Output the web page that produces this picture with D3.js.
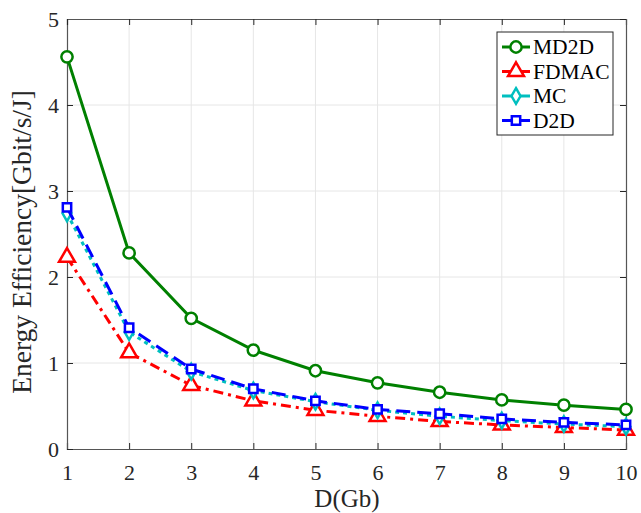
<!DOCTYPE html>
<html>
<head>
<meta charset="utf-8">
<script src="https://cdn.jsdelivr.net/npm/d3@7"></script>
<style>
  body { margin: 0; background: #fff; }
  svg text { font-family: "Liberation Serif", Tinos, "Times New Roman", Times, serif !important; }
</style>
</head>
<body>
<svg width="641" height="513"></svg>
<script>
var xValues = [1, 2, 3, 4, 5, 6, 7, 8, 9, 10];
var md2d  = [4.56, 2.28, 1.52, 1.15, 0.91, 0.77, 0.66, 0.57, 0.51, 0.46];
var fdmac = [2.23, 1.12, 0.74, 0.56, 0.45, 0.38, 0.32, 0.28, 0.25, 0.22];
var mc    = [2.74, 1.36, 0.90, 0.68, 0.55, 0.45, 0.38, 0.33, 0.29, 0.26];
var d2d   = [2.81, 1.41, 0.93, 0.70, 0.56, 0.46, 0.41, 0.35, 0.31, 0.28];
var yTicks = [0, 1, 2, 3, 4, 5];

var svg = d3.select('svg');
var padding = {t: 19, r: 15, b: 64, l: 67};
var chartWidth = 641 - padding.l - padding.r;
var chartHeight = 513 - padding.t - padding.b;

var chartG = svg.append('g')
    .attr('transform', 'translate(' + [padding.l, padding.t] + ')');

var xScale = d3.scaleLinear().domain([1, 10]).range([0, chartWidth]);
var yScale = d3.scaleLinear().domain([0, 5]).range([chartHeight, 0]);

// grid
chartG.append('g').selectAll('line.gx')
  .data(xValues.slice(1, -1)).enter().append('line')
    .attr('x1', function(d) { return xScale(d); })
    .attr('x2', function(d) { return xScale(d); })
    .attr('y1', 0).attr('y2', chartHeight)
    .attr('stroke', '#e6e6e6').attr('stroke-width', 1);
chartG.append('g').selectAll('line.gy')
  .data(yTicks.slice(1, -1)).enter().append('line')
    .attr('y1', function(d) { return yScale(d); })
    .attr('y2', function(d) { return yScale(d); })
    .attr('x1', 0).attr('x2', chartWidth)
    .attr('stroke', '#e6e6e6').attr('stroke-width', 1);

// axes, ticks pointing inward
var xAxis = d3.axisBottom(xScale).tickValues(xValues).tickSize(-6).tickPadding(15).tickFormat(d3.format('d'));
var yAxis = d3.axisLeft(yScale).tickValues(yTicks).tickSize(-6).tickPadding(8).tickFormat(d3.format('d'));
var xAxisTop = d3.axisTop(xScale).tickValues(xValues).tickSize(-6).tickFormat('');
var yAxisRight = d3.axisRight(yScale).tickValues(yTicks).tickSize(-6).tickFormat('');

function styleAxis(g) {
  g.attr('font-family', null).attr('font-size', null);
  g.select('.domain').attr('stroke', '#555').attr('stroke-width', 1.2);
  g.selectAll('.tick line').attr('stroke', '#262626');
  g.selectAll('.tick text').attr('fill', '#262626').style('font-size', '22px');
}

chartG.append('g').attr('transform', 'translate(0,' + chartHeight + ')').call(xAxis).call(styleAxis);
chartG.append('g').call(yAxis).call(styleAxis);
chartG.append('g').call(xAxisTop).call(styleAxis);
chartG.append('g').attr('transform', 'translate(' + chartWidth + ',0)').call(yAxisRight).call(styleAxis);

svg.append('text')
  .attr('x', 347).attr('y', 507)
  .attr('text-anchor', 'middle').style('font-size', '25px').attr('fill', '#262626')
  .text('D(Gb)');
svg.append('text')
  .attr('transform', 'translate(31,242) rotate(-90)')
  .attr('text-anchor', 'middle').style('font-size', '27.5px').attr('fill', '#262626')
  .text('Energy Efficiency[Gbit/s/J]');

var series = [
  {name: 'MD2D', values: md2d, color: '#008000', dash: null, marker: 'circle'},
  {name: 'FDMAC', values: fdmac, color: '#ff0000', dash: '10,5,3,5', marker: 'triangle'},
  {name: 'MC', values: mc, color: '#00bfbf', dash: '4,4', marker: 'diamond'},
  {name: 'D2D', values: d2d, color: '#0000ff', dash: '14,7', marker: 'square'}
];

var line = d3.line()
  .x(function(d, i) { return xScale(xValues[i]); })
  .y(function(d) { return yScale(d); });

var symbolTypes = {
  circle: d3.symbol().type(d3.symbolCircle).size(100),
  triangle: d3.symbol().type(d3.symbolTriangle).size(110),
  diamond: d3.symbol().type(d3.symbolDiamond).size(70),
  square: d3.symbol().type(d3.symbolSquare).size(70)
};

series.forEach(function(s) {
  chartG.append('path')
    .datum(s.values)
    .attr('d', line)
    .attr('fill', 'none')
    .attr('stroke', s.color)
    .attr('stroke-width', 3)
    .attr('stroke-dasharray', s.dash);
  chartG.selectAll('.m-' + s.name)
    .data(s.values).enter().append('path')
    .attr('transform', function(d, i) {
      return 'translate(' + xScale(xValues[i]) + ',' + yScale(d) + ')';
    })
    .attr('d', symbolTypes[s.marker])
    .attr('fill', 'white')
    .attr('stroke', s.color)
    .attr('stroke-width', 2.5);
});

// legend
var legend = svg.append('g').attr('transform', 'translate(497,32)');
legend.append('rect')
  .attr('width', 116).attr('height', 103)
  .attr('fill', 'white').attr('stroke', '#262626').attr('stroke-width', 1);
series.forEach(function(s, i) {
  var y = 15 + i * 24.5;
  legend.append('line')
    .attr('x1', 5).attr('x2', 33).attr('y1', y).attr('y2', y)
    .attr('stroke', s.color).attr('stroke-width', 3);
  legend.append('path')
    .attr('transform', 'translate(19,' + y + ')')
    .attr('d', symbolTypes[s.marker])
    .attr('fill', 'white').attr('stroke', s.color).attr('stroke-width', 2.5);
  legend.append('text')
    .attr('x', 36).attr('y', y + 7)
    .style('font-size', '21.5px').attr('fill', '#000')
    .text(s.name);
});
</script>
</body>
</html>
